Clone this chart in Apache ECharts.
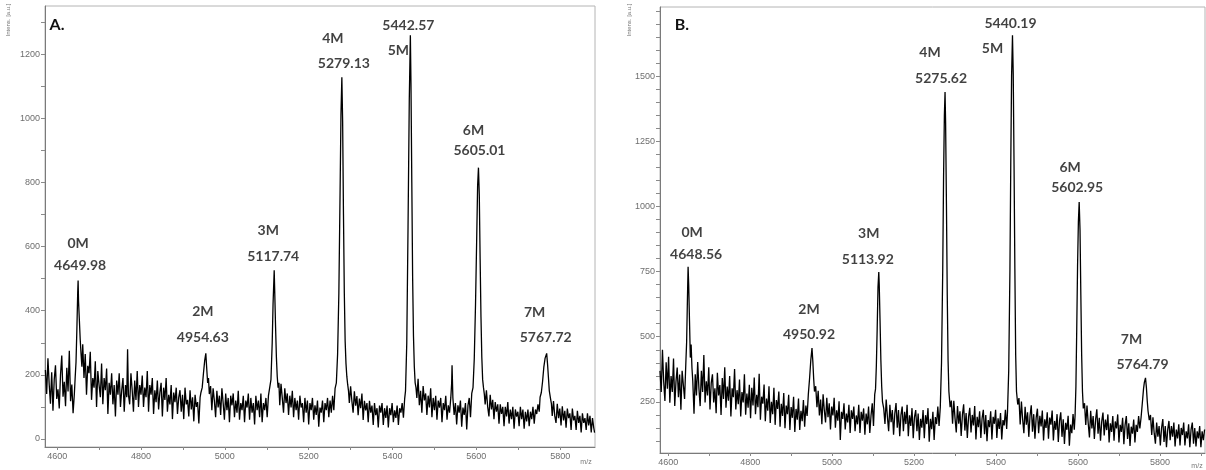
<!DOCTYPE html>
<html>
<head>
<meta charset="utf-8">
<script src="https://cdn.jsdelivr.net/npm/echarts@6/dist/echarts.min.js"></script>
<style>
  html, body { margin: 0; padding: 0; background: #fff; }
  #chart { width: 1206px; height: 470px; }
</style>
</head>
<body>
<div id="chart"></div>
<script>
// MALDI-TOF spectra, panels A and B: m/z vs. intensity [a.u.]

// Axis tick labels and tick marks
const xTickLabels = [4600, 4800, 5000, 5200, 5400, 5600, 5800];
const xTickMarks = [4600, 4700, 4800, 4900, 5000, 5100, 5200, 5300, 5400, 5500, 5600, 5700, 5800, 5900];
const yTickLabelsA = [0, 200, 400, 600, 800, 1000, 1200];
const yTickMarksA = [0, 100, 200, 300, 400, 500, 600, 700, 800, 900, 1000, 1100, 1200, 1300];
const yTickLabelsB = [250, 500, 750, 1000, 1250, 1500];
const yTickMarksB = [100, 150, 200, 250, 300, 350, 400, 450, 500, 550, 600, 650, 700, 750, 800, 850, 900, 950, 1000,
  1050, 1100, 1150, 1200, 1250, 1300, 1350, 1400, 1450, 1500, 1550, 1600, 1650, 1700, 1750];

// Annotated peaks
const peakNamesA = ['0M', '2M', '3M', '4M', '5M', '6M', '7M'];
const peakMzA = [4649.98, 4954.63, 5117.74, 5279.13, 5442.57, 5605.01, 5767.72];
const peakIntA = [494, 267, 526, 1128, 1259, 846, 267];

const peakNamesB = ['0M', '2M', '3M', '4M', '5M', '6M', '7M'];
const peakMzB = [4648.56, 4950.92, 5113.92, 5275.62, 5440.19, 5602.95, 5764.79];
const peakIntB = [768, 457, 748, 1439, 1657, 1017, 342];

// Spectrum A: [m/z, intensity]
const spectrumA = [
  [4572,215],[4575,140],[4578,252],[4581,170],[4584,110],[4587,208],[4590,88],[4593,185],[4596,230],[4599,125],
  [4602,155],[4605,95],[4608,200],[4611,260],[4614,132],[4617,178],[4620,102],[4623,222],[4626,148],[4629,275],
  [4632,118],[4635,170],[4638,80],[4641,140],[4643,192],
  [4645,240],[4647,340],[4649,455],[4649.98,494],[4651,430],[4653,370],[4655,310],[4657,265],[4659,225],
  [4661,295],[4664,190],[4667,265],[4670,138],[4673,228],[4676,205],[4679,272],[4682,122],[4685,190],[4688,160],
  [4691,242],[4694,100],[4697,212],[4700,168],[4703,130],[4706,235],[4709,108],[4712,190],[4715,152],[4718,220],
  [4721,78],[4724,175],[4727,138],[4730,205],
  [4733,108],[4736,168],[4739,70],[4742,182],[4745,138],[4748,205],[4751,100],[4754,152],[4757,190],[4760,85],
  [4763,168],[4766,130],[4768,280],[4770,138],[4773,108],[4776,205],[4779,152],[4782,85],[4785,182],[4788,122],
  [4791,212],[4794,100],[4797,168],[4800,138],
  [4803,198],[4806,100],[4809,160],[4812,130],[4815,212],[4818,85],[4821,168],[4824,138],[4827,190],[4830,78],
  [4833,152],[4836,115],[4839,182],[4842,92],[4845,145],[4848,175],[4851,70],[4854,160],[4857,122],[4860,190],
  [4863,85],[4866,138],[4869,108],[4872,168],[4875,62],[4878,145],[4881,115],[4884,160],[4887,78],[4890,130],
  [4893,152],[4896,85],[4899,138],[4902,62],[4905,160],[4908,108],[4911,122],[4914,70],[4917,152],[4920,92],
  [4923,130],[4926,55],[4929,138],[4932,100],[4935,115],[4938,48],[4941,130],[4943,145],
  [4946,160],[4949,205],[4952,245],[4954.63,267],[4957,215],[4959,175],[4961,190],[4963,140],[4966,165],
  [4969,90],[4972,158],[4975,120],[4978,68],[4981,150],[4984,98],[4987,135],[4990,75],[4993,158],[4996,112],
  [4999,60],[5002,142],[5005,90],[5008,128],[5011,52],[5014,135],[5017,105],[5020,142],[5023,68],[5026,120],
  [5029,82],[5032,150],[5035,60],[5038,112],[5041,90],[5044,135],[5047,52],[5050,120],[5053,98],[5056,142],
  [5059,60],[5062,128],[5065,82],[5068,112],[5071,45],[5074,135],[5077,90],[5080,120],[5083,68],[5086,142],
  [5089,52],[5092,112],[5095,90],[5098,128],[5101,68],[5104,135],
  [5107,140],[5110,185],[5113,300],[5115,420],[5117.74,526],[5119,460],[5121,350],[5123,255],[5125,195],
  [5127,160],[5129,175],
  [5131,105],[5134,172],[5137,128],[5140,82],[5143,158],[5146,112],[5149,142],[5152,75],[5155,135],[5158,98],
  [5161,150],[5164,68],[5167,128],[5170,90],[5173,120],[5176,60],[5179,135],[5182,98],[5185,112],[5188,52],
  [5191,128],[5194,82],[5197,120],[5200,45],[5203,112],[5206,90],[5209,128],[5212,60],[5215,105],[5218,75],
  [5221,120],[5224,38],[5227,98],[5230,82],[5233,120],[5236,52],[5239,112],[5242,90],[5245,128],[5248,68],
  [5251,120],[5254,82],[5257,135],[5260,90],[5263,158],
  [5266,175],[5269,265],[5272,455],[5275,780],[5277,1010],[5279.13,1128],[5281,990],[5283,700],[5285,455],
  [5287,305],[5289,235],[5291,195],[5293,170],[5295,150],
  [5297,112],[5300,164],[5303,119],[5306,82],[5309,149],[5312,104],[5315,134],[5318,74],[5321,126],[5324,96],
  [5327,142],[5330,59],[5333,119],[5336,89],[5339,112],[5342,52],[5345,119],[5348,82],[5351,104],[5354,44],
  [5357,112],[5360,74],[5363,96],[5366,36],[5369,104],[5372,82],[5375,112],[5378,44],[5381,96],[5384,66],
  [5387,104],[5390,36],[5393,96],[5396,74],[5399,112],[5402,52],[5405,89],[5408,66],[5411,104],[5414,44],
  [5417,96],[5420,82],[5423,112],[5426,66],[5429,126],
  [5431,150],[5434,300],[5437,660],[5440,1060],[5442.57,1259],[5444,1110],[5446,800],[5448,500],[5450,320],
  [5452,225],[5454,175],[5456,160],
  [5458,128],[5461,188],[5464,105],[5467,150],[5470,82],[5473,165],[5476,120],[5479,142],[5482,75],[5485,135],
  [5488,98],[5491,158],[5494,68],[5497,128],[5500,90],[5503,135],[5506,60],[5509,120],[5512,98],[5515,128],
  [5518,52],[5521,112],[5524,90],[5527,135],[5530,60],[5533,105],[5536,82],[5539,128],[5541,172],[5542,230],
  [5544,128],[5547,75],[5550,112],[5553,45],[5556,105],[5559,82],[5562,120],[5565,38],[5568,98],[5571,75],
  [5574,112],[5577,30],[5580,105],[5583,128],[5586,68],[5589,142],
  [5592,160],[5595,250],[5598,420],[5601,640],[5603,790],[5605.01,846],[5607,760],[5609,560],[5611,380],
  [5613,255],[5615,185],[5617,160],[5619,140],
  [5621,108],[5624,152],[5627,100],[5630,70],[5633,138],[5636,92],[5639,122],[5642,62],[5645,115],[5648,85],
  [5651,108],[5654,48],[5657,108],[5660,78],[5663,100],[5666,40],[5669,100],[5672,70],[5675,115],[5678,48],
  [5681,92],[5684,62],[5687,100],[5690,32],[5693,92],[5696,70],[5699,85],[5702,40],[5705,100],[5708,62],
  [5711,92],[5714,32],[5717,85],[5720,55],[5723,92],[5726,40],[5729,85],[5732,62],[5735,100],[5738,48],
  [5741,92],[5744,78],[5747,108],[5750,85],[5752,130],
  [5755,145],[5758,180],[5761,225],[5764,252],[5767.72,267],[5770,230],[5772,190],[5774,150],[5777,125],[5779,110],
  [5781,72],[5784,118],[5787,72],[5790,50],[5793,110],[5796,65],[5799,95],[5802,42],[5805,102],[5808,58],
  [5811,88],[5814,35],[5817,95],[5820,65],[5823,80],[5826,28],[5829,95],[5832,58],[5835,72],[5838,28],
  [5841,88],[5844,50],[5847,72],[5850,20],[5853,80],[5856,50],[5859,65],[5862,28],[5865,80],[5868,42],
  [5871,72],[5874,20],[5877,65],[5880,35],[5882,20]
];

// Spectrum B: [m/z, intensity]
const spectrumB = [
  [4580,369],[4583,288],[4586,450],[4589,328],[4592,254],[4595,402],[4598,301],[4601,423],[4604,247],[4607,349],
  [4610,288],[4613,416],[4616,234],[4619,328],[4622,382],[4625,268],[4628,355],[4631,220],[4634,369],[4637,315],
  [4640,261],[4643,396],
  [4645,480],[4647,650],[4648.56,768],[4650,700],[4652,560],[4654,420],[4656,470],[4658,380],[4660,330],[4663,205],
  [4666,356],[4669,275],[4672,403],[4675,302],[4678,234],[4681,369],[4684,288],[4687,430],[4690,248],[4693,329],
  [4696,275],[4699,383],[4702,221],[4705,322],[4708,356],[4711,248],[4714,302],[4717,207],[4720,362],[4723,275],
  [4726,315],[4729,200],[4732,342],[4735,261],
  [4738,383],[4741,228],[4744,309],[4747,255],[4750,349],[4753,194],[4756,302],[4759,268],[4762,376],[4765,221],
  [4768,295],[4771,241],[4774,336],[4777,194],[4780,288],[4783,248],[4786,356],[4789,201],[4792,282],[4795,228],
  [4798,316],[4801,187],
  [4804,304],[4807,236],[4810,344],[4813,203],[4816,277],[4819,230],[4822,358],[4825,182],[4828,270],[4831,243],
  [4834,317],[4837,176],[4840,263],[4843,216],[4846,310],[4849,169],[4852,250],[4855,203],[4858,304],[4861,162],
  [4864,257],[4867,223],[4870,290],[4873,155],[4876,243],[4879,196],[4882,284],[4885,149],[4888,236],[4891,203],
  [4894,277],[4897,142],[4900,230],[4903,189],[4906,270],[4909,135],[4912,223],[4915,182],[4918,263],[4921,142],
  [4924,216],[4927,176],[4930,257],[4933,155],[4936,236],[4939,196],
  [4942,280],[4945,340],[4948,410],[4950.92,457],[4953,405],[4955,340],[4957,290],[4960,310],[4963,230],
  [4966,293],[4969,198],[4972,259],[4975,164],[4978,279],[4981,218],[4984,171],[4987,266],[4990,191],[4993,245],
  [4996,144],[4999,232],[5002,198],[5005,266],[5008,151],[5011,218],[5014,178],[5017,252],[5020,104],[5023,212],
  [5026,185],[5029,245],[5032,144],[5035,205],[5038,171],[5041,239],[5044,131],[5047,218],[5050,185],[5053,232],
  [5056,138],[5059,198],[5062,164],[5065,239],[5068,131],[5071,212],[5074,178],[5077,225],[5080,124],[5083,205],
  [5086,164],[5089,232],[5092,131],[5095,198],[5098,245],[5101,158],[5104,279],
  [5106,300],[5108,390],[5110,530],[5112,690],[5113.92,748],[5115,700],[5117,560],[5119,410],[5121,310],[5123,250],
  [5126,225],
  [5129,165],[5132,259],[5135,192],[5138,138],[5141,239],[5144,172],[5147,219],[5150,124],[5153,205],[5156,246],
  [5159,151],[5162,219],[5165,118],[5168,199],[5171,232],[5174,138],[5177,212],[5180,165],[5183,239],[5186,118],
  [5189,199],[5192,158],[5195,226],[5198,111],[5201,192],[5204,219],[5207,138],[5210,205],[5213,104],[5216,185],
  [5219,151],[5222,219],[5225,111],[5228,199],[5231,165],[5234,226],[5237,97],[5240,185],[5243,145],[5246,212],
  [5249,104],[5252,192],[5255,165],[5258,232],[5261,158],
  [5264,230],[5267,400],[5270,760],[5272,1110],[5274,1350],[5275.62,1439],[5277,1320],[5279,1010],[5281,660],
  [5283,410],[5285,290],[5288,230],[5291,255],
  [5294,166],[5297,254],[5300,187],[5303,133],[5306,234],[5309,166],[5312,214],[5315,119],[5318,200],[5321,241],
  [5324,140],[5327,207],[5330,112],[5333,193],[5336,227],[5339,133],[5342,200],[5345,160],[5348,234],[5351,106],
  [5354,193],[5357,153],[5360,214],[5363,112],[5366,187],[5369,220],[5372,126],[5375,200],[5378,99],[5381,180],
  [5384,153],[5387,214],[5390,106],[5393,193],[5396,166],[5399,220],[5402,112],[5405,187],[5408,146],[5411,207],
  [5414,106],[5417,180],[5420,160],[5423,220],[5426,146],
  [5428,210],[5431,370],[5434,760],[5436,1160],[5438,1500],[5440.19,1657],[5442,1510],[5444,1160],[5446,760],
  [5448,430],[5450,290],[5453,240],[5456,265],
  [5459,163],[5462,251],[5465,183],[5468,130],[5471,231],[5474,163],[5477,210],[5480,116],[5483,197],[5486,237],
  [5489,136],[5492,203],[5495,109],[5498,190],[5501,224],[5504,130],[5507,197],[5510,156],[5513,217],[5516,102],
  [5519,183],[5522,150],[5525,210],[5528,109],[5531,190],[5534,163],[5537,217],[5540,102],[5543,177],[5546,143],
  [5549,203],[5552,96],[5555,177],[5558,210],[5561,116],[5564,183],[5567,89],[5570,170],[5573,143],[5576,197],
  [5579,82],[5582,163],[5585,130],[5588,203],[5591,143],
  [5593,200],[5595,310],[5597,530],[5599,770],[5601,940],[5602.95,1017],[5605,910],[5607,660],[5609,430],
  [5611,290],[5613,225],[5616,245],
  [5619,162],[5622,236],[5625,168],[5628,114],[5631,216],[5634,148],[5637,196],[5640,108],[5643,182],[5646,222],
  [5649,128],[5652,189],[5655,101],[5658,175],[5661,209],[5664,121],[5667,182],[5670,142],[5673,202],[5676,94],
  [5679,168],[5682,135],[5685,196],[5688,101],[5691,175],[5694,148],[5697,202],[5700,94],[5703,162],[5706,135],
  [5709,189],[5712,88],[5715,162],[5718,196],[5721,108],[5724,168],[5727,81],[5730,155],[5733,128],[5736,182],
  [5739,94],[5742,162],[5745,135],[5748,196],[5751,148],
  [5754,190],[5757,245],[5760,300],[5762,325],[5764.79,342],[5767,305],[5769,255],[5771,215],[5774,180],[5777,200],
  [5780,123],[5783,191],[5786,130],[5789,90],[5792,171],[5795,117],[5798,157],[5801,83],[5804,150],[5807,184],
  [5810,96],[5813,157],[5816,76],[5819,144],[5822,177],[5825,103],[5828,157],[5831,117],[5834,171],[5837,79],
  [5840,144],[5843,110],[5846,164],[5849,83],[5852,150],[5855,123],[5858,171],[5861,83],[5864,137],[5867,110],
  [5870,164],[5873,76],[5876,144],[5879,171],[5882,90],[5885,150],[5888,79],[5891,137],[5894,110],[5897,157],
  [5900,76],[5903,137],[5906,103],[5909,144]
];

// Pixel offsets of the two annotation lines (name, mass) from each peak tip
const annotOffsetA = {
  '0M': [[0, -37], [2, -15]],
  '2M': [[-3, -42], [-3, -16]],
  '3M': [[-6, -40], [-1, -14]],
  '4M': [[-9, -39], [2, -14]],
  '5M': [[-12, 15], [-2, -10]],
  '6M': [[-5, -37], [1, -17]],
  '7M': [[-12, -41], [-1, -16]]
};
const annotOffsetB = {
  '0M': [[4, -34], [8, -12]],
  '2M': [[-3, -38], [-3, -13]],
  '3M': [[-10, -39], [-11, -13]],
  '4M': [[-15, -39], [-4, -13]],
  '5M': [[-20, 13], [-2, -12]],
  '6M': [[-9, -34], [-2, -14]],
  '7M': [[-14, -38], [-3, -13]]
};

const LABEL_FONT = 'Lato, "Open Sans", sans-serif';
const TICK_FONT = '"Liberation Sans", Arial, sans-serif';

function annotations(names, mzs, ints, offsets) {
  const items = [];
  names.forEach((name, i) => {
    const off = offsets[name];
    items.push({ value: [mzs[i], ints[i]], label: { formatter: name, offset: off[0] } });
    items.push({ value: [mzs[i], ints[i]], label: { formatter: mzs[i].toFixed(2), offset: off[1] } });
  });
  return items;
}

const plainNumber = v => String(v);

function xAxisCfg(gridIndex, min, max) {
  return {
    type: 'value', gridIndex, min, max,
    axisLine: { onZero: false, lineStyle: { color: '#7a7a7a', width: 1 } },
    axisTick: { customValues: xTickMarks, length: 3, lineStyle: { color: '#8a8a8a' } },
    axisLabel: { customValues: xTickLabels, formatter: plainNumber, color: '#6e6e6e', fontSize: 9, fontFamily: TICK_FONT, margin: 5 },
    splitLine: { show: false }
  };
}

function yAxisCfg(gridIndex, min, max, labels, marks) {
  return {
    type: 'value', gridIndex, min, max,
    axisLine: { show: true, onZero: false, lineStyle: { color: '#7a7a7a', width: 1 } },
    axisTick: { show: true, customValues: marks, length: 4, lineStyle: { color: '#8a8a8a' } },
    axisLabel: { customValues: labels, formatter: plainNumber, color: '#6e6e6e', fontSize: 9, fontFamily: TICK_FONT, margin: 5 },
    splitLine: { show: false }
  };
}

function spectrumSeries(idx, data) {
  return {
    type: 'line', xAxisIndex: idx, yAxisIndex: idx, data,
    showSymbol: false, symbol: 'none', silent: true,
    lineStyle: { color: '#000', width: 1.3 },
    clip: true
  };
}

function annotSeries(idx, data) {
  return {
    type: 'scatter', xAxisIndex: idx, yAxisIndex: idx, data,
    symbolSize: 1, silent: true, z: 5,
    itemStyle: { color: 'rgba(0,0,0,0)' },
    label: {
      show: true, position: 'inside', color: '#111',
      fontFamily: LABEL_FONT, fontWeight: 'bold', fontSize: 14
    }
  };
}

const chart = echarts.init(document.getElementById('chart'), null, { renderer: 'canvas' });

chart.setOption({
  animation: false,
  backgroundColor: '#ffffff',
  grid: [
    { left: 45, top: 6, width: 550, height: 441, show: true, borderColor: '#b4b4b4', borderWidth: 1, containLabel: false },
    { left: 660, top: 7, width: 545, height: 446, show: true, borderColor: '#b4b4b4', borderWidth: 1, containLabel: false }
  ],
  xAxis: [xAxisCfg(0, 4571, 5883), xAxisCfg(1, 4580, 5910)],
  yAxis: [
    yAxisCfg(0, -25, 1350, yTickLabelsA, yTickMarksA),
    yAxisCfg(1, 54, 1765, yTickLabelsB, yTickMarksB)
  ],
  series: [
    spectrumSeries(0, spectrumA),
    spectrumSeries(1, spectrumB),
    annotSeries(0, annotations(peakNamesA, peakMzA, peakIntA, annotOffsetA)),
    annotSeries(1, annotations(peakNamesB, peakMzB, peakIntB, annotOffsetB))
  ],
  graphic: [
    { type: 'text', x: 57, y: 25, style: { text: 'A.', font: 'bold 16px ' + LABEL_FONT, fill: '#111', textAlign: 'center', textVerticalAlign: 'middle' } },
    { type: 'text', x: 682, y: 25, style: { text: 'B.', font: 'bold 16px ' + LABEL_FONT, fill: '#111', textAlign: 'center', textVerticalAlign: 'middle' } },
    { type: 'text', x: 8, y: 20, rotation: Math.PI / 2, style: { text: 'Intens. [a.u.]', font: '6px ' + TICK_FONT, fill: '#777', textAlign: 'center', textVerticalAlign: 'middle' } },
    { type: 'text', x: 629, y: 20, rotation: Math.PI / 2, style: { text: 'Intens. [a.u.]', font: '6px ' + TICK_FONT, fill: '#777', textAlign: 'center', textVerticalAlign: 'middle' } },
    { type: 'text', x: 586, y: 462, style: { text: 'm/z', font: '7px ' + TICK_FONT, fill: '#777', textAlign: 'center', textVerticalAlign: 'middle' } },
    { type: 'text', x: 1197, y: 466, style: { text: 'm/z', font: '7px ' + TICK_FONT, fill: '#777', textAlign: 'center', textVerticalAlign: 'middle' } }
  ]
});
</script>
</body>
</html>
